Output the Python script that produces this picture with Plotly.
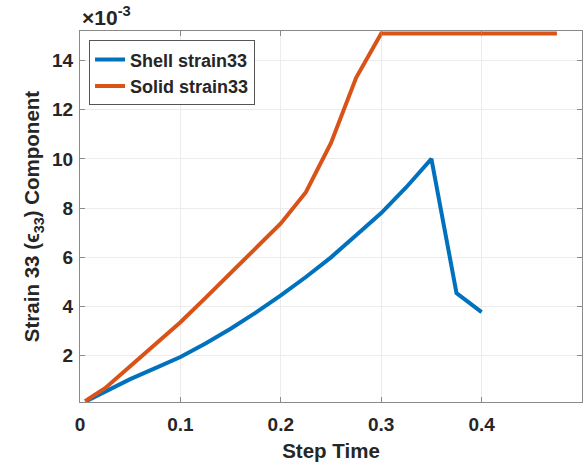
import plotly.graph_objects as go

# Step time values
shell_t = [0.006, 0.025, 0.05, 0.075, 0.1, 0.125, 0.15, 0.175, 0.2, 0.225,
           0.25, 0.275, 0.3, 0.325, 0.35, 0.375, 0.4]
# Shell strain33 (x 1e-3)
shell_e = [0.15, 0.55, 1.05, 1.5, 1.95, 2.5, 3.1, 3.75, 4.45, 5.2,
           6.0, 6.9, 7.8, 8.85, 10.0, 4.55, 3.77]

solid_t = [0.005, 0.025, 0.05, 0.075, 0.1, 0.125, 0.15, 0.175, 0.2, 0.225,
           0.25, 0.275, 0.3, 0.325, 0.35, 0.375, 0.4, 0.425, 0.45, 0.475]
# Solid strain33 (x 1e-3)
solid_e = [0.15, 0.68, 1.57, 2.47, 3.36, 4.35, 5.35, 6.35, 7.38, 8.65,
           10.65, 13.3, 15.1, 15.1, 15.1, 15.1, 15.1, 15.1, 15.1, 15.1]

x_ticks = [0, 0.1, 0.2, 0.3, 0.4]
x_tick_labels = ["0", "0.1", "0.2", "0.3", "0.4"]
y_ticks = [2, 4, 6, 8, 10, 12, 14]
y_tick_labels = ["2", "4", "6", "8", "10", "12", "14"]

BLUE = "#0072BD"
ORANGE = "#D95319"
FONT = "Liberation Sans, Arial, sans-serif"
TXT = "#262626"

fig = go.Figure()
fig.add_trace(go.Scatter(x=shell_t, y=shell_e, mode="lines", name="Shell strain33",
                         line=dict(color=BLUE, width=4)))
fig.add_trace(go.Scatter(x=solid_t, y=solid_e, mode="lines", name="Solid strain33",
                         line=dict(color=ORANGE, width=4)))

axis_common = dict(
    showline=True, linecolor="#8a8a8a", linewidth=1, mirror="ticks",
    ticks="inside", ticklen=5, tickcolor="#8a8a8a",
    showgrid=True, gridcolor="#ececec", gridwidth=1,
    zeroline=False,
    tickfont=dict(family=FONT, size=19, color=TXT, weight="bold"),
)

fig.update_layout(
    width=588, height=465,
    margin=dict(l=80, r=6, t=31, b=63),
    plot_bgcolor="white", paper_bgcolor="white",
    font=dict(family=FONT, color=TXT, weight="bold"),
    xaxis=dict(range=[0, 0.5], tickvals=x_ticks, ticktext=x_tick_labels,
               ticklabelstandoff=5,
               title=dict(text="Step Time", standoff=9,
                          font=dict(family=FONT, size=20.5, color=TXT, weight="bold")),
               **axis_common),
    yaxis=dict(range=[0.12, 15.2], tickvals=y_ticks, ticktext=y_tick_labels,
               ticklabelstandoff=2,
               title=dict(text="Strain 33 (ϵ<sub>33</sub>) Component", standoff=6,
                          font=dict(family=FONT, size=20.5, color=TXT, weight="bold")),
               **axis_common),
    legend=dict(x=0.018, y=0.975, xanchor="left", yanchor="top",
                bgcolor="white", bordercolor="#555555", borderwidth=1,
                font=dict(family=FONT, size=18, color=TXT, weight="bold"),
                itemwidth=30, tracegroupgap=0),
    showlegend=True,
)

fig.add_annotation(x=0, y=1, xref="paper", yref="paper", xanchor="left", yanchor="bottom",
                   showarrow=False, yshift=0,
                   text="×10<sup>-3</sup>",
                   font=dict(family=FONT, size=21, color=TXT, weight="bold"))

fig.write_html("out.html")
